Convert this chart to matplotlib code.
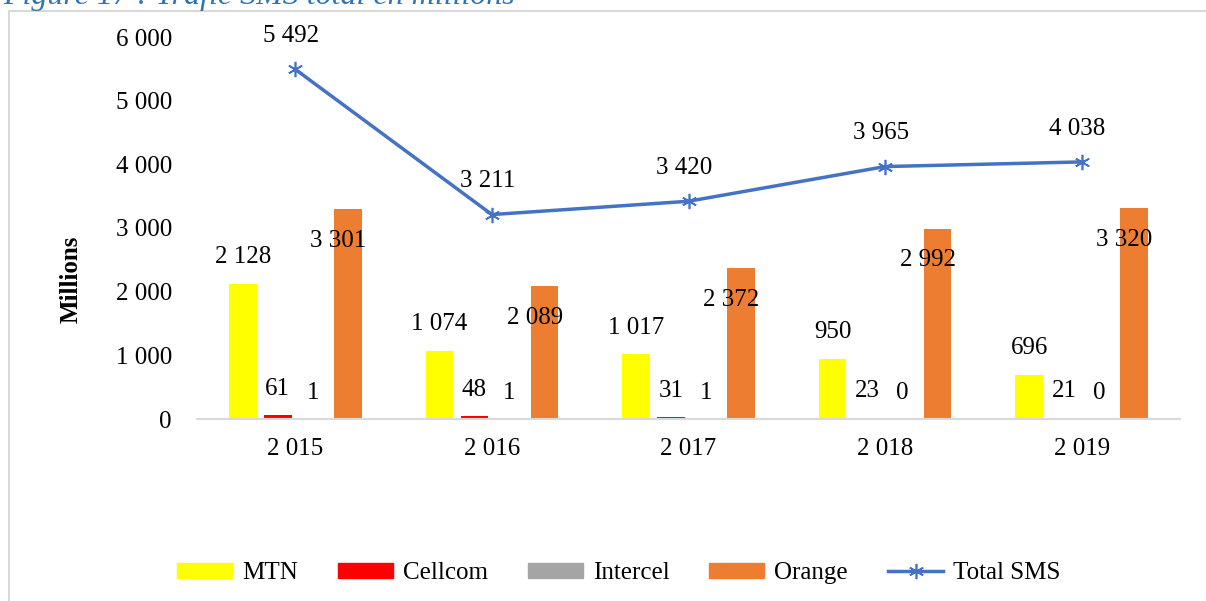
import matplotlib.pyplot as plt
import numpy as np
from matplotlib.patches import Rectangle, Patch
from matplotlib.lines import Line2D

years = ["2 015", "2 016", "2 017", "2 018", "2 019"]
mtn = [2128, 1074, 1017, 950, 696]
cellcom = [61, 48, 31, 23, 21]
intercel = [1, 1, 1, 0, 0]
orange = [3301, 2089, 2372, 2992, 3320]
total_sms = [5492, 3211, 3420, 3965, 4038]
yticks = [0, 1000, 2000, 3000, 4000, 5000, 6000]


def fmt(v):
    return "{:,}".format(int(v)).replace(",", " ")


plt.rcParams['font.family'] = ['Liberation Serif', 'DejaVu Serif']
fontsize = 18

fig = plt.figure(figsize=(12.06, 6.01), dpi=100)
fig.patches.append(Rectangle((9 / 1206, -0.1), 1.2, 1.1 - 11 / 601, transform=fig.transFigure,
                             fill=False, edgecolor='#d9d9d9', linewidth=1.5))
# caption sits mostly above the page edge, as in the source
fig.text(0.003, 1.006, "Figure 17 : Trafic SMS total en millions", color='#2E74B5',
         fontsize=23, style='italic', ha='left', va='center')

ax = fig.add_axes([197 / 1206, 1 - 419 / 601, 983 / 1206, (419 - 37) / 601])
x = np.arange(len(years))
step = 0.178
width = 0.14
series = [(mtn, '#FFFF00', 'MTN'), (cellcom, '#FF0000', 'Cellcom'),
          (intercel, '#A5A5A5', 'Intercel'), (orange, '#ED7D31', 'Orange')]
for i, (vals, col, name) in enumerate(series):
    pos = x + (i - 1.5) * step
    ax.bar(pos, vals, width, color=col, label=name, zorder=2)
    for p, v in zip(pos, vals):
        if name == 'Orange':
            ax.annotate(fmt(v), (p, v), xytext=(-7, -23), textcoords='offset points',
                        ha='center', va='center', fontsize=fontsize)
        else:
            ax.annotate(fmt(v), (p, v), xytext=(0, 19), textcoords='offset points',
                        ha='center', va='center', fontsize=fontsize)

ax.plot(x, total_sms, color='#4472C4', linewidth=2.5, marker=(6, 2, 0), markersize=11,
        markeredgewidth=1.2, markeredgecolor='#4472C4', zorder=3)
for p, v in zip(x, total_sms):
    ax.annotate(fmt(v), (p, v), xytext=(-3, 24), textcoords='offset points',
                ha='center', va='center', fontsize=fontsize)

ax.set_xlim(-0.5, len(years) - 0.5)
ax.set_ylim(0, 6000)
ax.set_xticks(x)
ax.set_xticklabels(years, fontsize=fontsize)
ax.set_yticks(yticks)
ax.set_yticklabels([fmt(t) for t in yticks], fontsize=fontsize)
ax.tick_params(axis='x', length=0, pad=14)
ax.tick_params(axis='y', length=0, pad=18)
for s in ['top', 'right', 'left']:
    ax.spines[s].set_visible(False)
ax.spines['bottom'].set_color('#d9d9d9')
ax.spines['bottom'].set_linewidth(1.5)
ax.set_ylabel('Millions', fontsize=fontsize, fontweight='bold', labelpad=24)
ax.yaxis.label.set_y(0.366)

handles = [Patch(color=c, label=n) for _, c, n in series]
handles.append(Line2D([], [], color='#4472C4', linewidth=2.5, marker=(6, 2, 0), markersize=11,
                      markeredgewidth=1.2, label='Total SMS'))
fig.legend(handles=handles, loc='center', bbox_to_anchor=(0.513, 1 - 573 / 601), ncol=5,
           frameon=False, fontsize=fontsize, handlelength=2.2, handleheight=0.55,
           columnspacing=1.6, handletextpad=0.4)

fig.savefig('out.png', dpi=100)
